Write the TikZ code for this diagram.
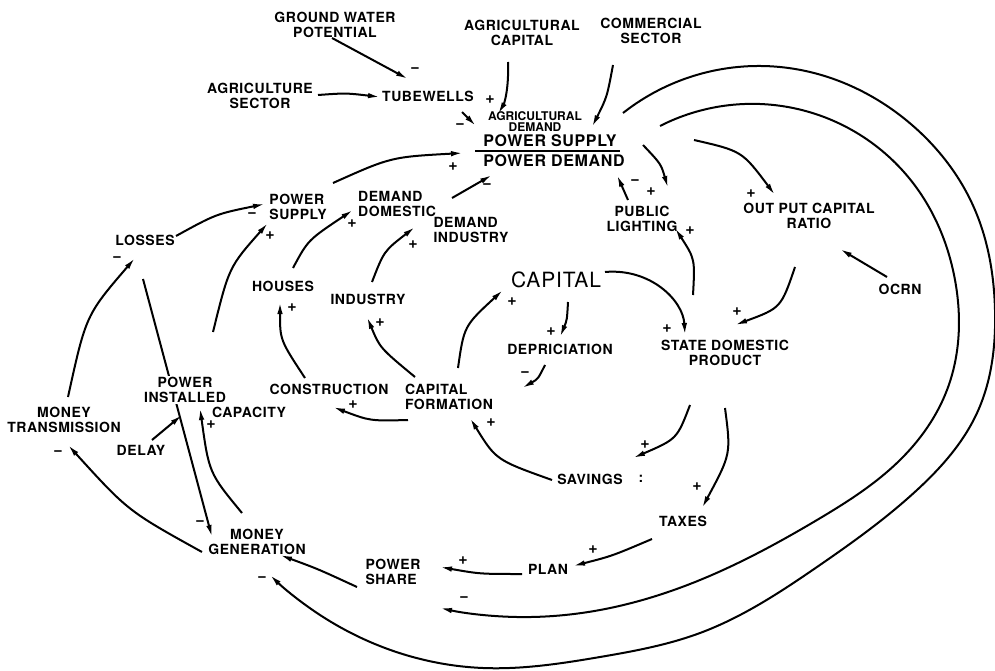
\documentclass[tikz,border=0pt]{standalone}
\usepackage{fontspec}
\setmainfont{TeX Gyre Heros}
\newfontfamily\lf[LetterSpace=4]{TeX Gyre Heros}
\usetikzlibrary{arrows.meta,calc,hobby}
\pgfdeclarelayer{bg}
\pgfsetlayers{bg,main}
\begin{document}
\begin{tikzpicture}[x=1pt,y=-1pt,
  lab/.style={font=\lf\bfseries\fontsize{14}{15}\selectfont, align=center, inner sep=1pt},
  labl/.style={lab, align=left},
  small/.style={font=\bfseries\fontsize{12}{11}\selectfont, align=center, inner sep=1pt},
  big/.style={font=\lf\bfseries\fontsize{16}{17}\selectfont, inner sep=1pt},
  captitle/.style={font=\lf\fontsize{21}{22}\selectfont, inner sep=1pt},
  sgn/.style={font=\bfseries\fontsize{16}{16}\selectfont, inner sep=0pt},
  arr/.style={line width=2pt, -{Latex[length=12pt,width=5.5pt]}},
  ln/.style={line width=2pt}]
\begin{pgfonlayer}{bg}
\fill[white] (0,0) rectangle (995,671);
\end{pgfonlayer}
\useasboundingbox (0,0) rectangle (995,671);
% nodes
\node[lab] (gwp) at (335,25) {GROUND WATER\\POTENTIAL};
\node[lab] (agcap) at (522,33) {AGRICULTURAL\\CAPITAL};
\node[lab] (comm) at (651,31) {COMMERCIAL\\SECTOR};
\node[lab] (agsec) at (260,96) {AGRICULTURE\\SECTOR};
\node[lab] (tube) at (428,96) {TUBEWELLS};
\node[small] (agdem) at (535,122) {AGRICULTURAL\\DEMAND};
\node[big] (psup) at (550,141) {POWER SUPPLY};
\node[big] (pdem) at (554,161) {POWER DEMAND};
\node[labl] (pwsup) at (298,207) {POWER\\SUPPLY};
\node[labl] (ddom) at (397,204) {DEMAND\\DOMESTIC};
\node[labl] (dind) at (471,230) {DEMAND\\INDUSTRY};
\node[lab] (loss) at (145,240) {LOSSES};
\node[lab] (houses) at (283,286) {HOUSES};
\node[lab] (industry) at (368,299) {INDUSTRY};
\node[lab, fill=white] (pinst) at (185,390) {POWER\\INSTALLED};
\node[lab] (capacity) at (249,412) {CAPACITY};
\node[lab] (delay) at (141,450) {DELAY};
\node[lab] (mtrans) at (64,420) {MONEY\\TRANSMISSION};
\node[lab] (mgen) at (257,542) {MONEY\\GENERATION};
\node[labl] (pshare) at (393,572) {POWER\\SHARE};
\node[lab] (plan) at (548,569) {PLAN};
\node[lab] (taxes) at (683,521) {TAXES};
\node[lab] (savings) at (590,479) {SAVINGS};
\node[lab] (colon) at (641,479) {:};
\node[labl] (cform) at (449,397) {CAPITAL\\FORMATION};
\node[lab] (constr) at (329,389) {CONSTRUCTION};
\node[captitle] (capital) at (556,280) {CAPITAL};
\node[lab] (deprec) at (560,349) {DEPRICIATION};
\node[lab] (sdp) at (725,353) {STATE DOMESTIC\\PRODUCT};
\node[lab] (publ) at (642,219) {PUBLIC\\LIGHTING};
\node[lab] (ocr) at (809,216) {OUT PUT CAPITAL\\RATIO};
\node[lab] (ocrn) at (900,289) {OCRN};
% polarity signs
\node[sgn] (s1) at (490,100) {+};
\node[sgn] (s2) at (415,70) {−};
\node[sgn] (s3) at (460,126) {−};
\node[sgn] (s5) at (453,167) {+};
\node[sgn] (s6) at (487,186) {−};
\node[sgn] (s7) at (252,215) {−};
\node[sgn] (s8) at (270,236) {+};
\node[sgn] (s9) at (352,224) {+};
\node[sgn] (s10) at (413,245) {+};
\node[sgn] (s11) at (117,259) {−};
\node[sgn] (s12) at (292,308) {+};
\node[sgn] (s13) at (380,323) {+};
\node[sgn] (s14) at (512,302) {+};
\node[sgn] (s15) at (551,332) {+};
\node[sgn] (s16) at (525,374) {−};
\node[sgn] (s17) at (353,405) {+};
\node[sgn] (s18) at (491,423) {+};
\node[sgn] (s19) at (211,425) {+};
\node[sgn] (s20) at (58,453) {−};
\node[sgn] (s21) at (200,523) {−};
\node[sgn] (s22) at (645,445) {+};
\node[sgn] (s23) at (697,487) {+};
\node[sgn] (s24) at (593,550) {+};
\node[sgn] (s25) at (463,561) {+};
\node[sgn] (s26) at (262,579) {−};
\node[sgn] (s27) at (464,599) {−};
\node[sgn] (s28) at (651,192) {+};
\node[sgn] (s29) at (635,182) {−};
\node[sgn] (s30) at (690,231) {+};
\node[sgn] (s31) at (751,194) {+};
\node[sgn] (s32) at (737,312) {+};
\node[sgn] (s33) at (667,329) {+};
% free ends of the long loops
\coordinate (o1) at ($(psup)+(73,-28)$);
\coordinate (o2) at ($(mgen)+(13,33)$);
\coordinate (i1) at ($(psup)+(110,-15)$);
\coordinate (i2) at ($(pshare)+(47,36)$);
\begin{pgfonlayer}{bg}
\draw[ln] (475,151) -- (620,151);
\draw[arr] ($(agsec)+(58,-1)$) .. controls (346,93) .. ($(tube)+(-48,1)$);
\draw[arr] ($(gwp)+(-3,13)$) -- ($(tube)+(-20,-17)$);
\draw[arr] ($(tube)+(34,16)$) -- ($(agdem)+(-59,4)$);
\draw[arr] ($(agcap)+(-14,29)$) .. controls (509,90) and (504,104) .. ($(agdem)+(-37,-8)$);
\draw[arr] ($(comm)+(-38,34)$) .. controls (607,97) .. ($(psup)+(42,-14)$);
\draw[arr] ($(pwsup)+(35,-24)$) .. controls (391,157) .. ($(psup)+(-87,12)$);
\draw[arr] ($(dind)+(-19,-32)$) -- ($(pdem)+(-62,14)$);
\draw[arr] ($(loss)+(31,-4)$) .. controls (216,214) .. ($(pwsup)+(-33,-3)$);
\draw[arr] ($(houses)+(10,-18)$) .. controls (308,240) .. ($(ddom)+(-44,6)$);
\draw[arr] ($(industry)+(4,-17)$) .. controls (384,251) .. ($(dind)+(-56,-3)$);
\draw[arr] ($(pinst)+(28,-58)$) .. controls (229,267) .. ($(pwsup)+(-30,16)$);
\draw[arr] ($(mtrans)+(4,-23)$) .. controls (86,315) .. ($(loss)+(-10,18)$);
\draw[arr] ($(loss)+(-2,39)$) -- ($(mgen)+(-45,-5)$);
\draw[arr] ($(delay)+(11,-10)$) -- ($(pinst)+(-3,25)$);
\draw[arr] ($(mgen)+(-15,-29)$) .. controls (209,473) .. ($(pinst)+(15,18)$);
\draw[arr] ($(mgen)+(-55,10)$) .. controls (128,511) .. ($(mtrans)+(4,25)$);
\draw[arr] ($(pshare)+(-36,15)$) .. controls (318,569) .. ($(mgen)+(23,13)$);
\draw[arr] ($(psup)+(144,-1)$) .. controls (742,151) .. ($(ocr)+(-34,-21)$);
\draw[arr] ($(psup)+(93,4)$) .. controls (661,164) .. ($(publ)+(26,-31)$);
\draw[arr] ($(publ)+(-14,-19)$) -- ($(pdem)+(63,14)$);
\draw[arr] ($(sdp)+(-32,-58)$) .. controls (695,259) .. ($(publ)+(33,9)$);
\draw[arr] ($(ocrn)+(-13,-12)$) -- ($(ocr)+(31,33)$);
\draw[arr] ($(ocr)+(-14,51)$) .. controls (781,308) .. ($(sdp)+(10,-28)$);
\draw[arr] ($(capital)+(49,-8)$) .. controls (650,268) and (683,300) .. ($(sdp)+(-40,-18)$);
\draw[arr] ($(capital)+(12,22)$) .. controls (567,320) .. ($(deprec)+(0,-12)$);
\draw[arr] ($(deprec)+(-15,16)$) .. controls (538,379) .. ($(cform)+(73,-9)$);
\draw[arr] ($(cform)+(9,-29)$) .. controls (464,326) .. ($(capital)+(-53,10)$);
\draw[arr] ($(sdp)+(-35,52)$) .. controls (677,439) .. ($(savings)+(43,-21)$);
\draw[arr] ($(savings)+(-38,1)$) .. controls (496,460) .. ($(cform)+(21,21)$);
\draw[arr] ($(sdp)+(0,55)$) .. controls (731,454) .. ($(taxes)+(19,-13)$);
\draw[arr] ($(taxes)+(-31,18)$) .. controls (612,556) .. ($(plan)+(25,-3)$);
\draw[arr] ($(plan)+(-26,5)$) .. controls (480,574) .. ($(pshare)+(47,-5)$);
\draw[arr] ($(cform)+(-41,23)$) .. controls (370,421) .. ($(constr)+(4,18)$);
\draw[arr] ($(constr)+(-24,-11)$) .. controls (280,340) .. ($(houses)+(-3,16)$);
\draw[arr] ($(cform)+(-34,-20)$) .. controls (380,348) .. ($(industry)+(-1,18)$);
\draw[arr, use Hobby shortcut] (o1) .. (780,67) .. (912,125) .. (975,210) .. (995,310) .. (977,413) .. (917,490) .. (817,567) .. (700,633) .. (600,657) .. (483,668) .. (317,613) .. (o2);
\draw[arr, use Hobby shortcut] (i1) .. (793,108) .. (913,183) .. (955,280) .. (947,390) .. (900,460) .. (817,520) .. (700,580) .. (600,610) .. (517,617) .. (i2);
\end{pgfonlayer}
\end{tikzpicture}
\end{document}
